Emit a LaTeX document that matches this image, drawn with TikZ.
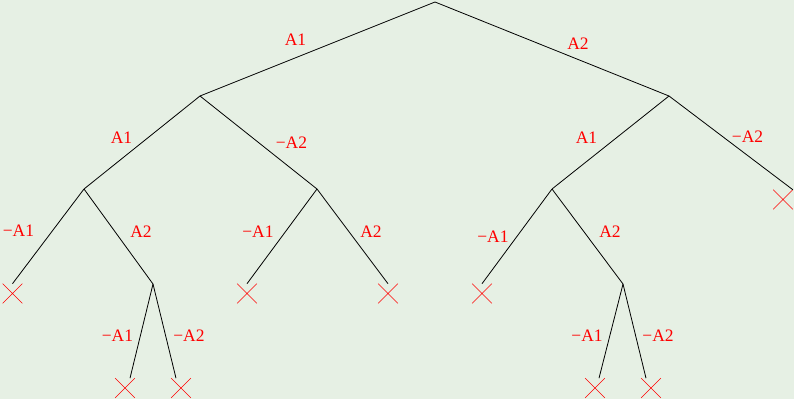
\documentclass[tikz,border=0pt]{standalone}
\usepackage{fontspec}
\setmainfont{Liberation Serif}
\usetikzlibrary{shapes.misc}
\definecolor{bgreen}{RGB}{230,240,228}
\begin{document}
\begin{tikzpicture}[x=1pt, y=-1pt, line width=.8pt,
    lbl/.style={text=red, anchor=base, inner sep=0pt, font=\fontsize{17.5}{20}\selectfont},
    leaf/.style={cross out, draw=red, line width=.6pt, minimum size=19pt, inner sep=0pt}]
\fill[bgreen] (0,0) rectangle (794,399);
\useasboundingbox (0,0) rectangle (794,399);

% inner vertices
\coordinate (root) at (435,2);
\coordinate (a) at (200,96);
\coordinate (b) at (669,96);
\coordinate (aa) at (84,189);
\coordinate (ab) at (317,189);
\coordinate (ba) at (552,189);
\coordinate (aab) at (153,284);
\coordinate (bab) at (623,284);

% leaves
\node[leaf] (bb) at (783,199.5) {};
\node[leaf] (aaa) at (12.5,293.5) {};
\node[leaf] (aba) at (247,293.5) {};
\node[leaf] (abb) at (388,293.5) {};
\node[leaf] (baa) at (482,293.5) {};
\node[leaf] (aaba) at (125,388) {};
\node[leaf] (aabb) at (181,388) {};
\node[leaf] (baba) at (595,388) {};
\node[leaf] (babb) at (651,388) {};

\foreach \p/\c in {root/a, root/b, a/aa, a/ab, b/ba, aa/aab, ba/bab}
{
    \draw (\p) -- (\c);
}
\foreach \p/\c in {aa/aaa, ab/aba, ab/abb, ba/baa}
{
    \draw (\p) -- (\c.north);
}
\draw (b) -- (bb.north east);
\draw (aab) -- ([xshift=5pt]aaba.north);
\draw (aab) -- ([xshift=-5pt]aabb.north);
\draw (bab) -- ([xshift=4pt]baba.north);
\draw (bab) -- ([xshift=-5pt]babb.north);

% labels
\node[lbl] (l1) at (295.5,45) {A1};
\node[lbl] (l2) at (578,49) {A2};
\node[lbl] (l3) at (121.5,143) {A1};
\node[lbl] (l4) at (291.5,148) {−A2};
\node[lbl] (l5) at (586.5,143) {A1};
\node[lbl] (l6) at (747.5,142) {−A2};
\node[lbl] (l7) at (18.5,236) {−A1};
\node[lbl] (l8) at (141,237) {A2};
\node[lbl] (l9) at (258,237) {−A1};
\node[lbl] (l10) at (371,237) {A2};
\node[lbl] (l11) at (493,242) {−A1};
\node[lbl] (l12) at (610,237) {A2};
\node[lbl] (l13) at (117.5,341) {−A1};
\node[lbl] (l14) at (189,341) {−A2};
\node[lbl] (l15) at (587,341) {−A1};
\node[lbl] (l16) at (658,341) {−A2};

\end{tikzpicture}
\end{document}
